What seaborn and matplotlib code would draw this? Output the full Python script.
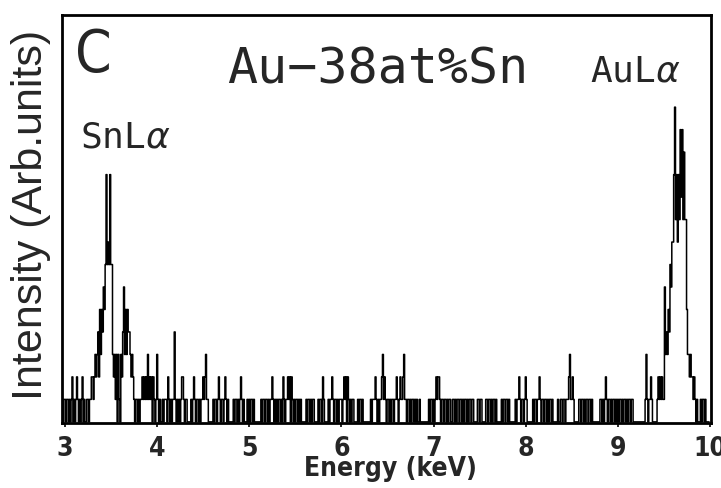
import numpy as np
import pandas as pd
import seaborn as sns
import matplotlib.pyplot as plt
from matplotlib import font_manager

# EDS spectrum of Au-38at%Sn, counts per 10 eV channel.
# one hex digit per channel (a=10, b=11, ...), one string per keV
start_kev = 2.97
channel_kev = 0.01
counts_lead = '101'  # 2.97 - 2.99 keV
counts_3 = ('1011010120' '1012101012' '0100110112' '2123234253' '54657b787b'
            '7732313031' '0324635354' '4323210110' '1011212121' '3121202101')
counts_4 = ('3101001011' '1021010114' '1010101221' '0110000101' '2101101011'
            '2123110000' '0101101210' '1101210100' '0001011010' '1210100010')
counts_5 = ('1011010000' '0001011011' '0101121010' '1011010210' '1121202101'
            '0110101000' '0010110101' '1000010110' '2100001011' '2101101011')
counts_6 = ('1012120210' '1011000010' '1101000000' '0010111210' '1011231210'
            '1101011011' '2101211231' '1011010110' '1010010000' '0000010110')
counts_7 = ('1012122101' '1011010110' '0110101101' '1010110101' '1011000011'
            '0110000110' '1101011010' '0000101101' '1010000001' '0112101101')
counts_8 = ('2100000010' '1101121011' '0110101101' '0000010011' '0110111231'
            '1210000011' '0110101101' '1010000000' '0110101210' '1101011010')
counts_9 = ('1011010110' '1011011000' '0000000000' '1310112100' '0001212121'
            '1634354768' '8be9b8b9da' 'd9c9953323' '2212101000' '1011010000')

x_ticks = [3, 4, 5, 6, 7, 8, 9, 10]

raw = counts_lead + counts_3 + counts_4 + counts_5 + counts_6 + counts_7 + counts_8 + counts_9
counts = np.array([int(c, 16) for c in raw])
energy = np.round(start_kev + channel_kev * np.arange(len(counts)), 2)
df = pd.DataFrame({'energy': energy, 'counts': counts})

sns.set_style('ticks')
plt.rcParams['font.family'] = ['DejaVu Sans']
plt.rcParams['mathtext.fontset'] = 'dejavusans'

# narrow font for the condensed labels of the scan, if there is one
fams = {f.name for f in font_manager.fontManager.ttflist}
narrow = 'Liberation Sans Narrow' if 'Liberation Sans Narrow' in fams else 'DejaVu Sans'

fig = plt.figure(figsize=(7.21, 4.88), dpi=100)
ax = fig.add_axes([62 / 721, 1 - 423 / 488, 648.5 / 721, 408 / 488])

sns.lineplot(data=df, x='energy', y='counts', estimator=None, drawstyle='steps-mid',
             color='black', linewidth=1.1, ax=ax)

ax.set_xlim(2.967, 10.005)
ax.set_ylim(-0.05, 18.1)
ax.set_yticks([])
ax.set_xticks(x_ticks)
ax.set_xticklabels([str(t) for t in x_ticks], fontsize=19, fontweight='bold',
                   family=narrow, fontstretch='condensed')
ax.tick_params(axis='x', direction='out', length=3, width=1.2, pad=6, color='black')
for s in ax.spines.values():
    s.set_visible(True)
    s.set_linewidth(2.0)
    s.set_color('black')

ax.set_xlabel('Energy (keV)', fontsize=19, fontweight='bold', family=narrow,
              fontstretch='condensed')
ax.xaxis.set_label_coords(0.506, -0.082)
ax.set_ylabel('Intensity (Arb.units)', fontsize=31, family='Liberation Sans')
ax.yaxis.set_label_coords(-0.017, 0.51)

ax.text(0.020, 0.860, 'C', transform=ax.transAxes, fontsize=42, family=narrow,
        fontstretch='condensed', va='baseline', ha='left')
ax.text(0.487, 0.833, 'Au\u221238at%Sn', transform=ax.transAxes, fontsize=36,
        family='DejaVu Sans Mono', va='baseline', ha='center')
ax.text(0.028, 0.676, r'SnL$\alpha$', transform=ax.transAxes, fontsize=26,
        family='DejaVu Sans Mono', va='baseline', ha='left')
ax.text(0.814, 0.836, r'AuL$\alpha$', transform=ax.transAxes, fontsize=26,
        family='DejaVu Sans Mono', va='baseline', ha='left')

plt.savefig('out.png', dpi=100)
